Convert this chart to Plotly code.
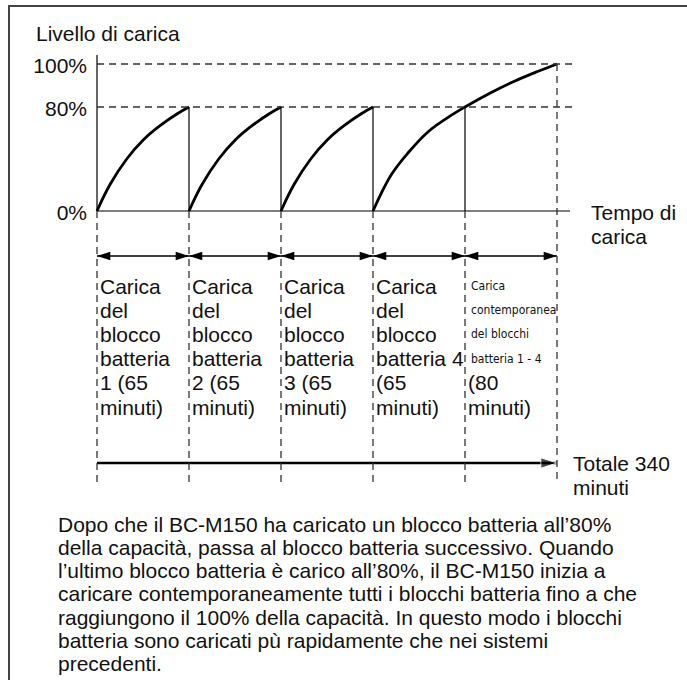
import numpy as np
import plotly.graph_objects as go

W, H = 687, 680
FONT = "Liberation Sans, Arial, Helvetica, sans-serif"
NARROW = "DejaVu Sans Condensed, Liberation Sans Narrow, sans-serif"
INK = "#111111"

# confini dei blocchi di carica (minuti)
block_edges = [0, 65, 130, 195, 260, 340]
level_ticks = [0, 80, 100]
level_labels = ["0%", "80%", "100%"]

# curva di carica di un singolo blocco (minuti dall'inizio, livello %)
curve_min = [0, 9, 21, 33, 45, 57, 65]
curve_lvl = [0, 20, 40, 55, 66, 75, 80]

# blocco 4 + carica contemporanea fino al 100%
last_min = [195, 208, 220, 234, 248, 260, 282, 303, 323, 340]
last_lvl = [0, 28, 45, 61, 72, 80, 86.5, 92, 96.5, 100]

seg_labels = [
    ["Carica", "del", "blocco", "batteria", "1 (65", "minuti)"],
    ["Carica", "del", "blocco", "batteria", "2 (65", "minuti)"],
    ["Carica", "del", "blocco", "batteria", "3 (65", "minuti)"],
    ["Carica", "del", "blocco", "batteria 4", "(65", "minuti)"],
    ["Carica", "contemporanea", "del blocchi", "batteria 1 - 4", "(80", "minuti)"],
]
narrow_lines = 4  # righe in carattere stretto nell'ultimo blocco

paragraph = [
    "Dopo che il BC-M150 ha caricato un blocco batteria all\u201980%",
    "della capacit\u00e0, passa al blocco batteria successivo. Quando",
    "l\u2019ultimo blocco batteria \u00e8 carico all\u201980%, il BC-M150 inizia a",
    "caricare contemporaneamente tutti i blocchi batteria fino a che",
    "raggiungono il 100% della capacit\u00e0. In questo modo i blocchi",
    "batteria sono caricati p\u00f9 rapidamente che nei sistemi",
    "precedenti.",
]

# geometria dello schema (pixel)
X0, XSTEP = 97, 92
Y0, YSTEP = 211, 1.3


def px_x(p):
    return (p - X0) / XSTEP


def px_y(p):
    return (Y0 - p) / YSTEP


def xpos(t):
    return np.interp(t, block_edges, np.arange(len(block_edges)))


def ypos(lvl):
    # scala schematica: 100% è più alto del proporzionale
    return np.interp(lvl, level_ticks, [px_y(211), px_y(107), px_y(64)])


fig = go.Figure()

curve_style = dict(mode="lines", line=dict(color="black", width=2.8, shape="spline", smoothing=1.1),
                   hoverinfo="skip", showlegend=False)
for start in block_edges[:3]:
    fig.add_trace(go.Scatter(x=xpos(np.array(curve_min) + start), y=ypos(curve_lvl), **curve_style))
fig.add_trace(go.Scatter(x=xpos(last_min), y=ypos(last_lvl), **curve_style))

# frecce doppie per ogni blocco
y_seg = px_y(256)
for a, b in zip(block_edges[:-1], block_edges[1:]):
    fig.add_trace(go.Scatter(
        x=xpos([a, b]), y=[y_seg, y_seg], mode="lines+markers",
        line=dict(color="black", width=1.4),
        marker=dict(symbol="arrow", size=14, angle=[-90, 90], color="black"),
        hoverinfo="skip", showlegend=False))

# freccia tempo totale
y_tot = px_y(463)
fig.add_trace(go.Scatter(
    x=xpos([block_edges[0], block_edges[-1]]), y=[y_tot, y_tot], mode="lines+markers",
    line=dict(color="black", width=2.6),
    marker=dict(symbol="arrow", size=[0, 17], angle=[0, 90], color="black"),
    hoverinfo="skip", showlegend=False))

dash = dict(color="#333333", width=1.3, dash="7px,5px")
thin = dict(color="black", width=1.2)
x_end = px_x(573)
y_bot = px_y(482)

# assi
fig.add_shape(type="line", x0=0, x1=0, y0=0, y1=px_y(55), line=thin)
fig.add_shape(type="line", x0=0, x1=px_x(570), y0=0, y1=0, line=thin)

# linee tratteggiate di livello
for lvl in level_ticks[1:]:
    fig.add_shape(type="line", x0=0, x1=x_end, y0=ypos(lvl), y1=ypos(lvl), line=dash)

# cadute verticali a fine blocco
for t in block_edges[1:5]:
    fig.add_shape(type="line", x0=xpos(t), x1=xpos(t), y0=0, y1=ypos(80), line=thin)

# tratteggi verticali
for t in block_edges[:-1]:
    fig.add_shape(type="line", x0=xpos(t), x1=xpos(t), y0=0, y1=y_bot, line=dash)
fig.add_shape(type="line", x0=xpos(block_edges[-1]), x1=xpos(block_edges[-1]),
              y0=ypos(100), y1=y_bot, line=dash)

# cornice
fig.add_shape(type="rect", xref="paper", yref="paper", x0=9 / W, x1=1.2,
              y0=-0.2, y1=1 - 6 / H, line=dict(color="#444444", width=2))


def add_text(s, x, y, size=21, family=FONT, xanchor="left"):
    fig.add_annotation(text=s, x=x / W, y=1 - y / H, xref="paper", yref="paper",
                       xanchor=xanchor, yanchor="middle", showarrow=False,
                       font=dict(size=size, family=family, color=INK))


add_text("Livello di carica", 34, 33)
add_text("Tempo di", 589, 212)
add_text("carica", 589, 236)
add_text("Totale 340", 571, 463)
add_text("minuti", 571, 487)

for i, lines in enumerate(seg_labels):
    x_left = X0 + XSTEP * i + 1
    for j, s in enumerate(lines):
        if i == len(seg_labels) - 1 and j < narrow_lines:
            add_text(s, x_left + 3, 286 + 24.2 * j, size=12, family=NARROW)
        else:
            add_text(s, x_left, 286 + 24.2 * j)

for j, s in enumerate(paragraph):
    add_text(s, 56, 524 + 23.3 * j)

fig.update_layout(
    width=W, height=H,
    margin=dict(l=0, r=0, t=0, b=0),
    paper_bgcolor="white", plot_bgcolor="white",
    xaxis=dict(range=[px_x(0), px_x(W)], visible=False, fixedrange=True),
    yaxis=dict(range=[px_y(H), px_y(0)], anchor="free", position=X0 / W,
               tickvals=ypos(level_ticks), ticktext=level_labels,
               showgrid=False, zeroline=False, showline=False, ticks="",
               ticklabelstandoff=10, ticklabelshift=2,
               tickfont=dict(size=21, family=FONT, color=INK), fixedrange=True),
    showlegend=False,
)

fig.write_html("out.html", config={"displayModeBar": False},
               post_script="document.body.style.margin='0';")
